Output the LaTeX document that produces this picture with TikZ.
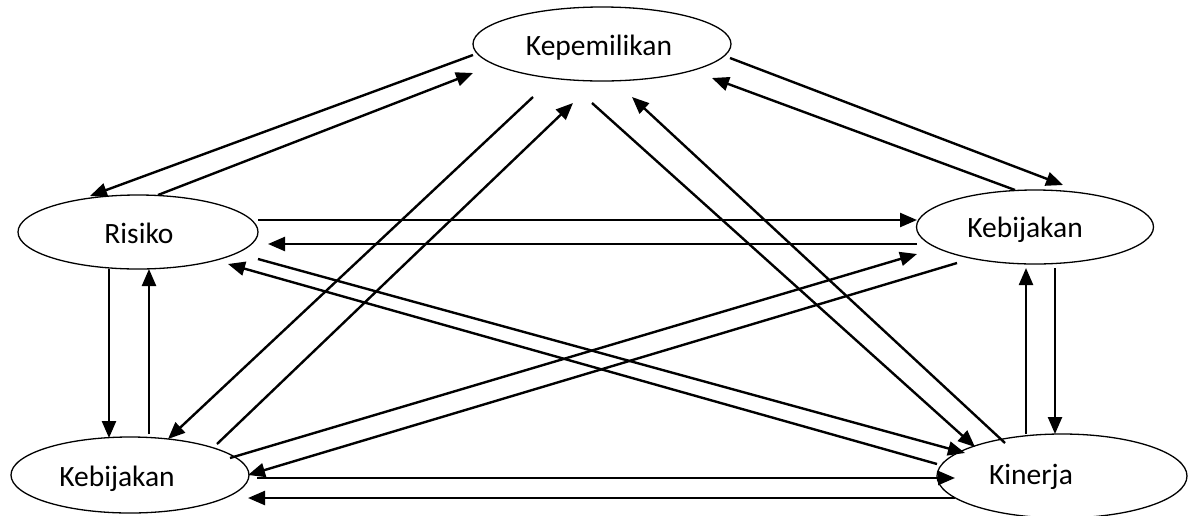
\documentclass[tikz,border=0pt]{standalone}
\usepackage{fontspec}
\setmainfont{Carlito}
\usetikzlibrary{shapes.geometric,arrows.meta}
\begin{document}
\begin{tikzpicture}[x=1pt,y=-1pt,
  ell/.style={draw,ellipse,line width=1.3pt,inner sep=0pt},
  lbl/.style={anchor=base,inner sep=0pt,font=\fontsize{29.5}{35}\selectfont},
  arr/.style={line width=2.4pt,-{Triangle[length=17pt,width=14pt]}}]
\useasboundingbox (0,0) rectangle (1188,515);
\node[ell,minimum width=258pt,minimum height=74pt] (kep) at (602,44) {};
\node[ell,minimum width=240pt,minimum height=74pt] (ris) at (138,232) {};
\node[ell,minimum width=237pt,minimum height=74pt] (kebr) at (1035,227) {};
\node[ell,minimum width=238pt,minimum height=76pt] (kebl) at (130,475) {};
\node[ell,minimum width=250pt,minimum height=84pt] (kin) at (1062,476) {};
\node[lbl] (tkep) at (599,55) {Kepemilikan};
\node[lbl] (tris) at (139,243) {Risiko};
\node[lbl] (tkebr) at (1025,237) {Kebijakan};
\node[lbl] (tkebl) at (117,486) {Kebijakan};
\node[lbl] (tkin) at (1031,484) {Kinerja};
% endpoints
\coordinate (a1) at (473,55);   \coordinate (b1) at (90,196);
\coordinate (a2) at (158,195);  \coordinate (b2) at (473,73);
\coordinate (a3) at (730,58);   \coordinate (b3) at (1063,185);
\coordinate (a4) at (1015,190); \coordinate (b4) at (712,78);
\coordinate (a5) at (258,220);  \coordinate (b5) at (917,220);
\coordinate (a6) at (917,244);  \coordinate (b6) at (268,244);
\coordinate (a7) at (109,269);  \coordinate (b7) at (109,438);
\coordinate (a8) at (149,434);  \coordinate (b8) at (149,269);
\coordinate (a9) at (1055,268); \coordinate (b9) at (1055,434);
\coordinate (a10) at (1026,434);\coordinate (b10) at (1026,268);
\coordinate (a11) at (257,478); \coordinate (b11) at (955,478);
\coordinate (a12) at (955,498); \coordinate (b12) at (248,498);
\coordinate (a13) at (533,97);  \coordinate (b13) at (168,439);
\coordinate (a14) at (217,444); \coordinate (b14) at (573,103);
\coordinate (a15) at (592,103); \coordinate (b15) at (975,447);
\coordinate (a16) at (1005,443);\coordinate (b16) at (632,97);
\coordinate (a17) at (258,259); \coordinate (b17) at (965,453);
\coordinate (a18) at (937,464); \coordinate (b18) at (228,264);
\coordinate (a19) at (230,458); \coordinate (b19) at (917,254);
\coordinate (a20) at (957,263); \coordinate (b20) at (248,475);
\foreach \i in {1,...,20} {\draw[arr] (a\i) -- (b\i);}
\end{tikzpicture}
\end{document}
